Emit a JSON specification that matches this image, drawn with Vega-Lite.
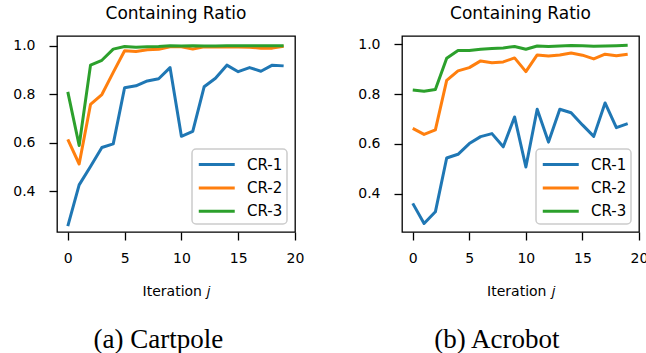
{
  "$schema": "https://vega.github.io/schema/vega-lite/v6.json",
  "padding": {"left": 12, "top": 4, "right": 0, "bottom": 0},
  "background": "white",
  "datasets": {
    "cartpole": [
      {"i":0,"s":"CR-1","v":0.257},{"i":1,"s":"CR-1","v":0.427},{"i":2,"s":"CR-1","v":0.503},{"i":3,"s":"CR-1","v":0.581},{"i":4,"s":"CR-1","v":0.596},
      {"i":5,"s":"CR-1","v":0.827},{"i":6,"s":"CR-1","v":0.835},{"i":7,"s":"CR-1","v":0.855},{"i":8,"s":"CR-1","v":0.864},{"i":9,"s":"CR-1","v":0.910},
      {"i":10,"s":"CR-1","v":0.627},{"i":11,"s":"CR-1","v":0.647},{"i":12,"s":"CR-1","v":0.831},{"i":13,"s":"CR-1","v":0.866},{"i":14,"s":"CR-1","v":0.920},
      {"i":15,"s":"CR-1","v":0.893},{"i":16,"s":"CR-1","v":0.910},{"i":17,"s":"CR-1","v":0.895},{"i":18,"s":"CR-1","v":0.920},{"i":19,"s":"CR-1","v":0.917},
      {"i":0,"s":"CR-2","v":0.614},{"i":1,"s":"CR-2","v":0.513},{"i":2,"s":"CR-2","v":0.758},{"i":3,"s":"CR-2","v":0.799},{"i":4,"s":"CR-2","v":0.89},
      {"i":5,"s":"CR-2","v":0.979},{"i":6,"s":"CR-2","v":0.976},{"i":7,"s":"CR-2","v":0.983},{"i":8,"s":"CR-2","v":0.985},{"i":9,"s":"CR-2","v":0.996},
      {"i":10,"s":"CR-2","v":0.996},{"i":11,"s":"CR-2","v":0.986},{"i":12,"s":"CR-2","v":0.996},{"i":13,"s":"CR-2","v":0.995},{"i":14,"s":"CR-2","v":0.996},
      {"i":15,"s":"CR-2","v":0.995},{"i":16,"s":"CR-2","v":0.994},{"i":17,"s":"CR-2","v":0.99},{"i":18,"s":"CR-2","v":0.99},{"i":19,"s":"CR-2","v":0.998},
      {"i":0,"s":"CR-3","v":0.81},{"i":1,"s":"CR-3","v":0.589},{"i":2,"s":"CR-3","v":0.92},{"i":3,"s":"CR-3","v":0.94},{"i":4,"s":"CR-3","v":0.986},
      {"i":5,"s":"CR-3","v":0.997},{"i":6,"s":"CR-3","v":0.994},{"i":7,"s":"CR-3","v":0.996},{"i":8,"s":"CR-3","v":0.997},{"i":9,"s":"CR-3","v":1.0},
      {"i":10,"s":"CR-3","v":0.999},{"i":11,"s":"CR-3","v":1.0},{"i":12,"s":"CR-3","v":0.999},{"i":13,"s":"CR-3","v":0.999},{"i":14,"s":"CR-3","v":1.0},
      {"i":15,"s":"CR-3","v":1.0},{"i":16,"s":"CR-3","v":1.0},{"i":17,"s":"CR-3","v":1.0},{"i":18,"s":"CR-3","v":1.0},{"i":19,"s":"CR-3","v":1.0}
    ],
    "acrobot": [
      {"i":0,"s":"CR-1","v":0.361},{"i":1,"s":"CR-1","v":0.280},{"i":2,"s":"CR-1","v":0.327},{"i":3,"s":"CR-1","v":0.543},{"i":4,"s":"CR-1","v":0.558},
      {"i":5,"s":"CR-1","v":0.601},{"i":6,"s":"CR-1","v":0.629},{"i":7,"s":"CR-1","v":0.641},{"i":8,"s":"CR-1","v":0.588},{"i":9,"s":"CR-1","v":0.708},
      {"i":10,"s":"CR-1","v":0.507},{"i":11,"s":"CR-1","v":0.739},{"i":12,"s":"CR-1","v":0.607},{"i":13,"s":"CR-1","v":0.739},{"i":14,"s":"CR-1","v":0.725},
      {"i":15,"s":"CR-1","v":0.676},{"i":16,"s":"CR-1","v":0.630},{"i":17,"s":"CR-1","v":0.764},{"i":18,"s":"CR-1","v":0.665},{"i":19,"s":"CR-1","v":0.681},
      {"i":0,"s":"CR-2","v":0.662},{"i":1,"s":"CR-2","v":0.638},{"i":2,"s":"CR-2","v":0.656},{"i":3,"s":"CR-2","v":0.855},{"i":4,"s":"CR-2","v":0.893},
      {"i":5,"s":"CR-2","v":0.906},{"i":6,"s":"CR-2","v":0.933},{"i":7,"s":"CR-2","v":0.926},{"i":8,"s":"CR-2","v":0.929},{"i":9,"s":"CR-2","v":0.945},
      {"i":10,"s":"CR-2","v":0.890},{"i":11,"s":"CR-2","v":0.957},{"i":12,"s":"CR-2","v":0.953},{"i":13,"s":"CR-2","v":0.957},{"i":14,"s":"CR-2","v":0.965},
      {"i":15,"s":"CR-2","v":0.956},{"i":16,"s":"CR-2","v":0.941},{"i":17,"s":"CR-2","v":0.960},{"i":18,"s":"CR-2","v":0.954},{"i":19,"s":"CR-2","v":0.960},
      {"i":0,"s":"CR-3","v":0.816},{"i":1,"s":"CR-3","v":0.811},{"i":2,"s":"CR-3","v":0.818},{"i":3,"s":"CR-3","v":0.944},{"i":4,"s":"CR-3","v":0.975},
      {"i":5,"s":"CR-3","v":0.975},{"i":6,"s":"CR-3","v":0.980},{"i":7,"s":"CR-3","v":0.983},{"i":8,"s":"CR-3","v":0.985},{"i":9,"s":"CR-3","v":0.991},
      {"i":10,"s":"CR-3","v":0.980},{"i":11,"s":"CR-3","v":0.993},{"i":12,"s":"CR-3","v":0.991},{"i":13,"s":"CR-3","v":0.993},{"i":14,"s":"CR-3","v":0.995},
      {"i":15,"s":"CR-3","v":0.994},{"i":16,"s":"CR-3","v":0.992},{"i":17,"s":"CR-3","v":0.993},{"i":18,"s":"CR-3","v":0.994},{"i":19,"s":"CR-3","v":0.996}
    ]
  },
  "spacing": 52,
  "resolve": {"scale": {"color": "independent"}, "legend": {"color": "independent"}},
  "hconcat": [
    {
      "title": {"text": "(a) Cartpole", "orient": "bottom", "anchor": "middle", "font": "Liberation Serif", "fontSize": 27, "fontWeight": "normal", "offset": 28, "color": "black"},
      "resolve": {"scale": {"color": "independent"}, "legend": {"color": "independent"}},
      "vconcat": [
        {
          "title": {"text": "Containing Ratio", "offset": 13},
          "width": 238,
          "height": 196,
          "data": {"name": "cartpole"},
          "mark": {"type": "line", "strokeWidth": 3, "strokeJoin": "round", "clip": true},
          "encoding": {
            "x": {"field": "i", "type": "quantitative", "title": "Iteration 𝑗",
                  "scale": {"domain": [-0.95, 20], "nice": false, "zero": false},
                  "axis": {"values": [0, 5, 10, 15, 20]}},
            "y": {"field": "v", "type": "quantitative", "title": null,
                  "scale": {"domain": [0.233, 1.04], "nice": false, "zero": false},
                  "axis": {"values": [0.4, 0.6, 0.8, 1.0], "format": ".1f", "labelPadding": 14}},
            "color": {"field": "s", "type": "nominal",
                      "scale": {"domain": ["CR-1", "CR-2", "CR-3"], "range": ["#1f77b4", "#ff7f0e", "#2ca02c"]},
                      "legend": {"title": null}}
          }
        }
      ]
    },
    {
      "title": {"text": "(b) Acrobot", "orient": "bottom", "anchor": "middle", "font": "Liberation Serif", "fontSize": 27, "fontWeight": "normal", "offset": 28, "dx": -6, "color": "black"},
      "resolve": {"scale": {"color": "independent"}, "legend": {"color": "independent"}},
      "vconcat": [
        {
          "title": {"text": "Containing Ratio", "offset": 13},
          "width": 237,
          "height": 196,
          "data": {"name": "acrobot"},
          "mark": {"type": "line", "strokeWidth": 3, "strokeJoin": "round", "clip": true},
          "encoding": {
            "x": {"field": "i", "type": "quantitative", "title": "Iteration 𝑗",
                  "scale": {"domain": [-0.95, 20], "nice": false, "zero": false},
                  "axis": {"values": [0, 5, 10, 15, 20]}},
            "y": {"field": "v", "type": "quantitative", "title": null,
                  "scale": {"domain": [0.246, 1.033], "nice": false, "zero": false},
                  "axis": {"values": [0.4, 0.6, 0.8, 1.0], "format": ".1f", "labelPadding": 14}},
            "color": {"field": "s", "type": "nominal",
                      "scale": {"domain": ["CR-1", "CR-2", "CR-3"], "range": ["#1f77b4", "#ff7f0e", "#2ca02c"]},
                      "legend": {"title": null}}
          }
        }
      ]
    }
  ],
  "config": {
    "font": "DejaVu Sans",
    "view": {"stroke": "black", "strokeWidth": 1.3},
    "axis": {
      "domain": false, "grid": false,
      "ticks": true, "tickColor": "black", "tickSize": 8, "tickWidth": 1.3,
      "labelFont": "DejaVu Sans", "labelFontSize": 14, "labelColor": "black", "labelPadding": 11,
      "labelFlush": false, "labelOverlap": false,
      "titleFont": "DejaVu Sans", "titleFontSize": 14, "titleFontWeight": "normal", "titleColor": "black", "titlePadding": 19
    },
    "legend": {
      "orient": "bottom-right", "offset": 8,
      "fillColor": "white", "strokeColor": "#cccccc", "strokeWidth": 1.5, "cornerRadius": 4, "padding": 4,
      "symbolType": "M-0.9,0H2.81", "symbolSize": 376, "symbolStrokeWidth": 3, "symbolFillColor": "transparent",
      "labelFont": "DejaVu Sans", "labelFontSize": 15, "labelColor": "black", "labelOffset": 28,
      "labelExpr": "datum.label + ' '",
      "rowPadding": 3.4
    },
    "title": {"font": "DejaVu Sans", "fontSize": 17, "fontWeight": "normal", "color": "black", "anchor": "middle"}
  }
}
